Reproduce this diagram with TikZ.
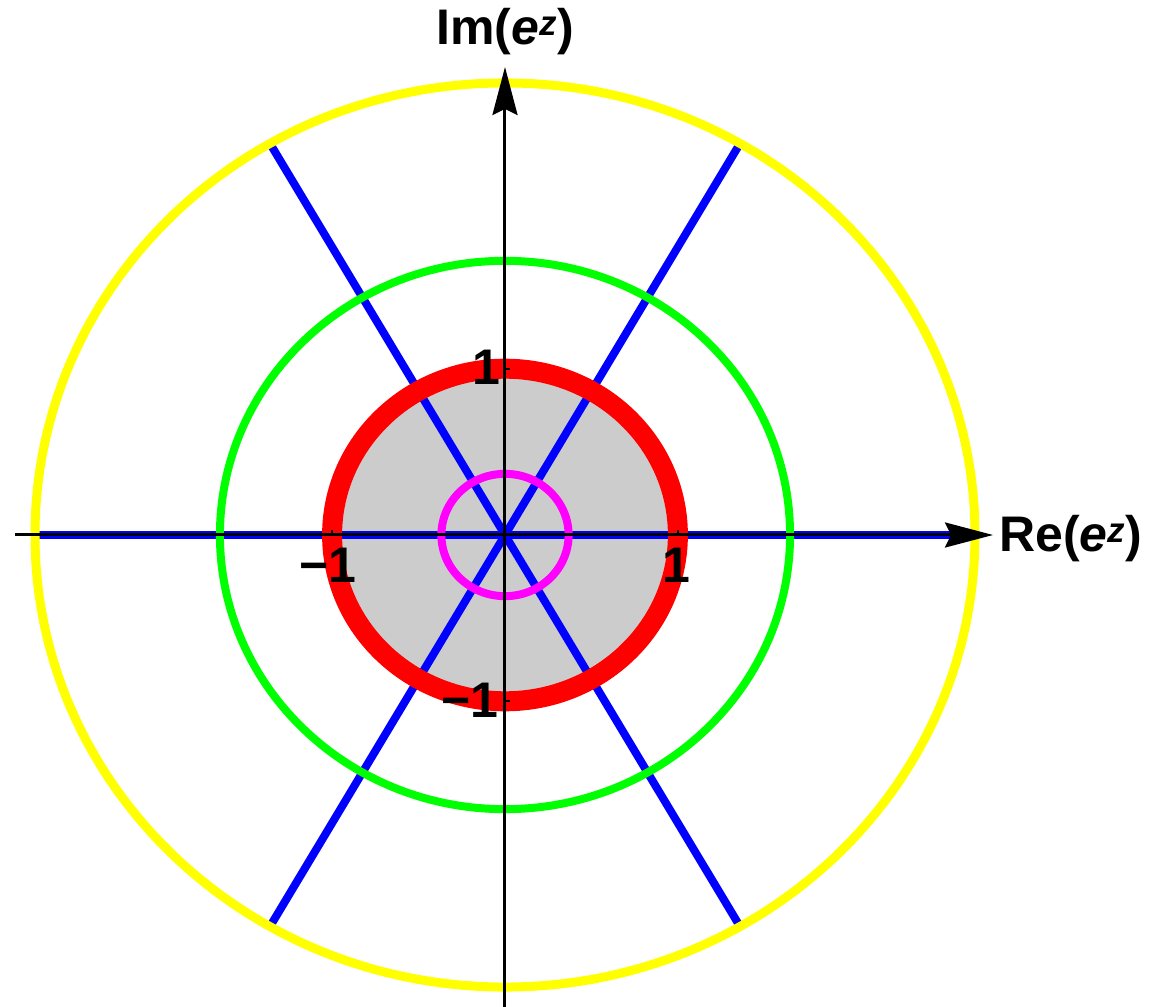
\documentclass[tikz,border=0pt]{standalone}
\usepackage{fontspec}
\setmainfont{Liberation Sans}
\usetikzlibrary{arrows.meta}
\definecolor{cyellow}{RGB}{255,255,0}
\definecolor{cgreen}{RGB}{0,255,0}
\definecolor{cblue}{RGB}{0,0,255}
\definecolor{cred}{RGB}{255,0,0}
\definecolor{cmag}{RGB}{255,0,255}
\definecolor{cgray}{RGB}{204,204,204}
\begin{document}
\begin{tikzpicture}[x=1pt,y=1pt,
  ray/.style={draw=cblue,line width=8pt},
  axisline/.style={draw=black,line width=3pt,-{Stealth[length=48pt,width=25pt,inset=6pt]}},
  tickmark/.style={draw=black,line width=2pt},
  lbl/.style={font=\fontsize{50}{54}\selectfont\bfseries,inner sep=0pt}]
\useasboundingbox (-505,-472) rectangle (658,535);
\def\ex{172.9}\def\ey{166.3}\def\E{2.71828}
\coordinate (O) at (0,0);
% unit disk fill
\fill[cgray] (O) ellipse [x radius=\ex pt, y radius=\ey pt];
% blue rays
\foreach \a in {60,120,240,300}{
  \draw[ray] (O) -- ({\E*\ex*cos(\a)},{\E*\ey*sin(\a)});
}
\draw[ray] ({-\E*\ex},0) -- ({\E*\ex},0);
% circles
\draw[cmag,line width=8pt] (O) ellipse [x radius={0.367879*\ex pt}, y radius={0.367879*\ey pt}];
\draw[cred,line width=20pt] (O) ellipse [x radius=\ex pt, y radius=\ey pt];
\draw[cgreen,line width=8pt] (O) ellipse [x radius={1.648721*\ex pt}, y radius={1.648721*\ey pt}];
\draw[cyellow,line width=9pt] (O) ellipse [x radius={\E*\ex pt}, y radius={\E*\ey pt}];
% axes
\coordinate (xs) at (-490,0);
\coordinate (xe) at (488,0);
\coordinate (ys) at (0,-472);
\coordinate (ye) at (0,468);
\draw[axisline] (xs) -- (xe);
\draw[axisline] (ys) -- (ye);
% ticks
\draw[tickmark] (\ex,0) -- (\ex,5);
\draw[tickmark] (-\ex,0) -- (-\ex,5);
\draw[tickmark] (0,\ey) -- (5,\ey);
\draw[tickmark] (0,-\ey) -- (5,-\ey);
% labels
\node[lbl,anchor=base west] (relbl) at (494,-17) {Re(\textit{e}\textsuperscript{\textit{z}})};
\node[lbl,anchor=base] (imlbl) at (0,490) {Im(\textit{e}\textsuperscript{\textit{z}})};
\node[lbl] (t1) at (-19,167.5) {1};
\node[lbl] (t2) at (171,-30) {1};
\node[lbl] (t3) at (-177,-30) {−1};
\node[lbl] (t4) at (-35,-165) {−1};
\end{tikzpicture}
\end{document}
